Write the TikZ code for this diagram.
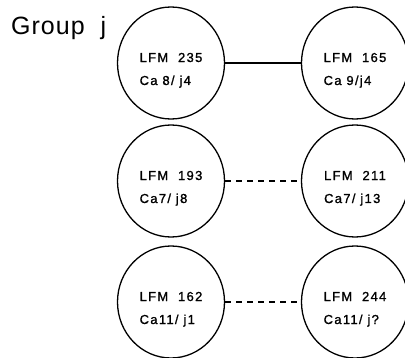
\documentclass[tikz,border=0pt]{standalone}
\usepackage{fontspec}
\setmainfont{Liberation Sans}
\newfontfamily\ringfont[LetterSpace=10,FakeBold=1.2]{Liberation Sans}
\newfontfamily\titlefont[LetterSpace=4]{Liberation Sans}
\usetikzlibrary{shapes.geometric}

\tikzset{
	ring/.style={draw, ellipse, line width=1.3pt, minimum width=107pt,
		minimum height=112pt, inner sep=0pt, align=left,
		text height=46pt, text depth=2pt,
		font=\ringfont\fontsize{13}{23}\selectfont},
	link/.style={line width=1.2pt},
}

\begin{document}
\begin{tikzpicture}[x=1pt,y=1pt]

\def\colL{171}
\def\colR{355}
\def\rowA{294}
\def\rowB{176}
\def\rowC{55}

\useasboundingbox (0,0) rectangle (405,357);

% title
\node[anchor=base west, inner sep=0pt, font=\titlefont\fontsize{25}{25}\selectfont]
	(title) at (11,322) {Group\ \ j};

% first pair
\node[ring] (p1) at (\colL,\rowA) {LFM\ \ 235\\Ca 8/ j4};
\node[ring] (q1) at (\colR,\rowA) {LFM\ \ 165\\Ca 9/j4};
\draw [link] (p1) -- (q1);

% second pair
\node[ring] (p2) at (\colL,\rowB) {LFM\ \ 193\\Ca7/ j8};
\node[ring] (q2) at (\colR,\rowB) {LFM\ \ 211\\Ca7/ j13};
\draw [link,dash pattern=on 6pt off 5pt] (p2) -- (q2);

% third pair
\node[ring] (p3) at (\colL,\rowC) {LFM\ \ 162\\Ca11/ j1};
\node[ring] (q3) at (\colR,\rowC) {LFM\ \ 244\\Ca11/ j?};
\draw [link,dash pattern=on 6pt off 5pt] (p3) -- (q3);

\end{tikzpicture}
\end{document}
